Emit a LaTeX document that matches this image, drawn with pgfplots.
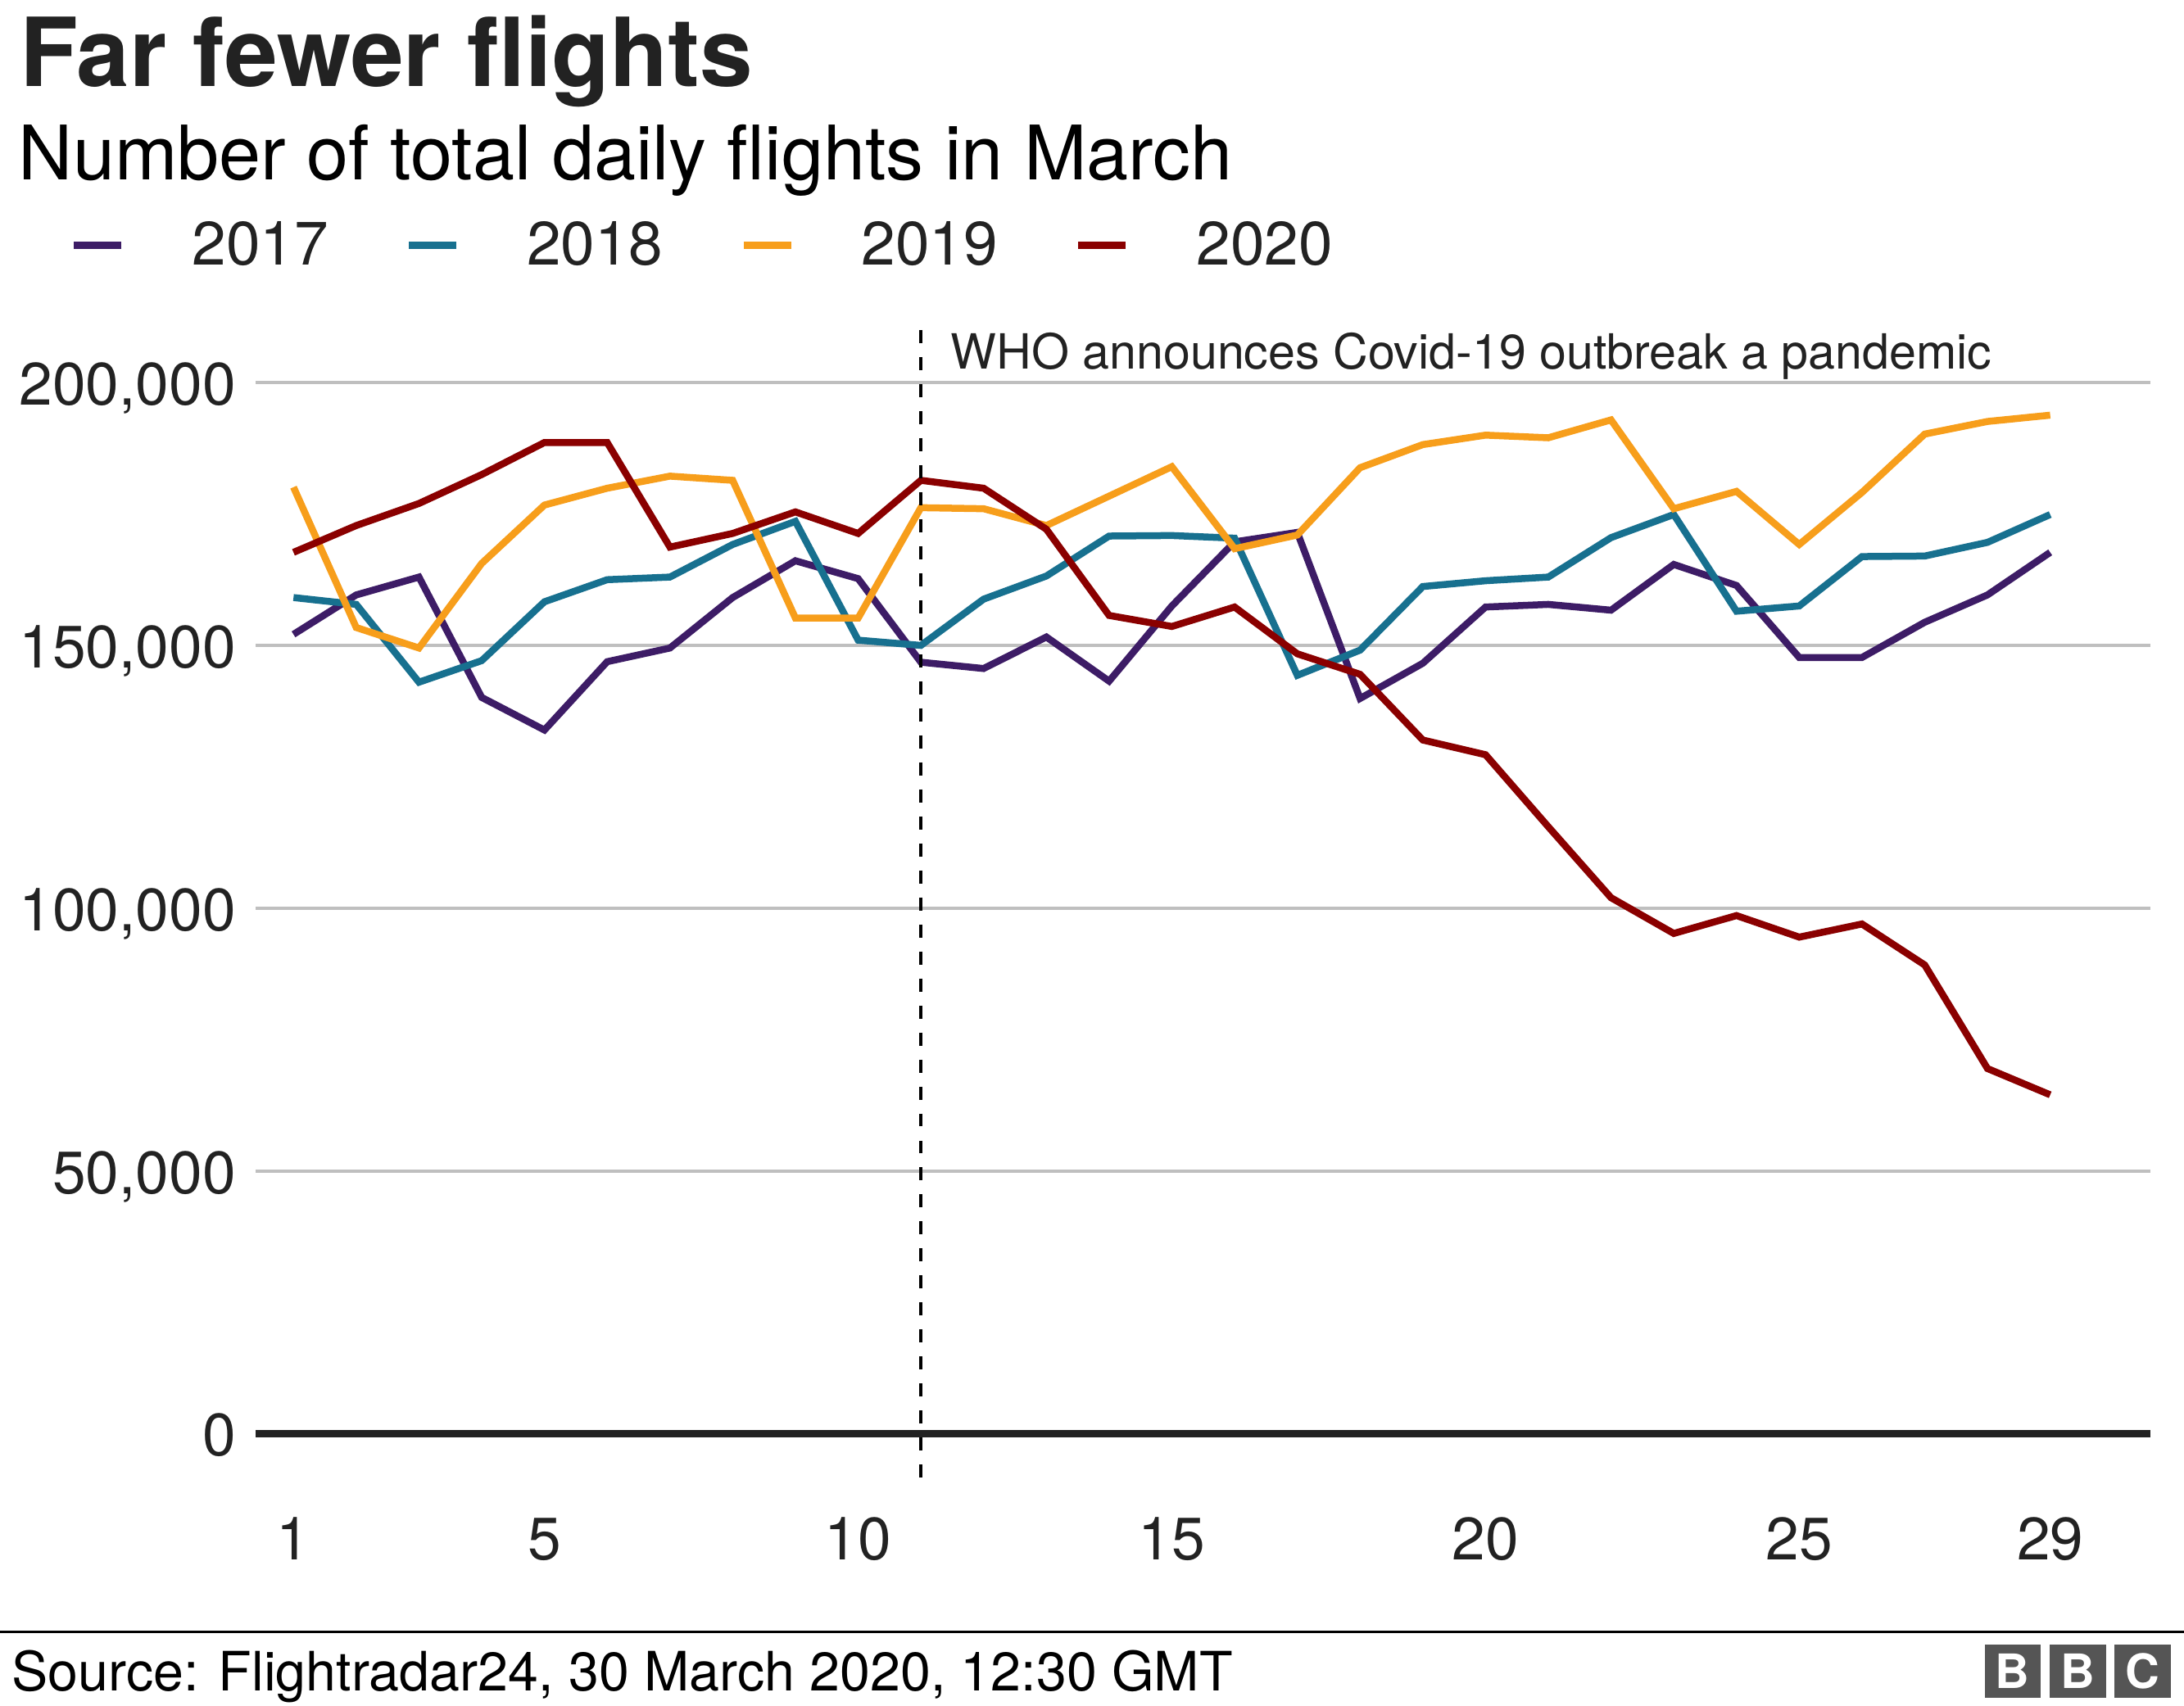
\documentclass[border=0pt]{standalone}
\usepackage{fontspec}
\setmainfont{TeX Gyre Heros}
\usepackage{pgfplots}
\usepackage{pgfplotstable}
\pgfplotsset{compat=1.18}

\definecolor{c17}{HTML}{3D1C66}
\definecolor{c18}{HTML}{17708F}
\definecolor{c19}{HTML}{F79E1B}
\definecolor{c20}{HTML}{8A0000}
\definecolor{gridc}{HTML}{BFBFBF}
\definecolor{zeroc}{HTML}{222222}
\definecolor{txt}{HTML}{222222}
\definecolor{bbcg}{HTML}{555555}

% daily flights, March
\pgfplotstableread{
day y2017  y2018  y2019  y2020
1   152100 159100 180100 167700
2   159600 157800 153400 172800
3   163000 143000 149500 177000
4   140100 147100 165600 182500
5   133900 158300 176700 188600
6   146900 162500 179900 188600
7   149500 163000 182200 168700
8   159100 169200 181400 171300
9   166100 173600 155200 175400
10  162700 151000 155200 171300
11  146800 150000 176200 181400
12  145600 158800 176000 179900
13  151600 163200 172800 172100
14  143200 170800 178400 155700
15  157500 170900 184000 153600
16  169700 170400 168400 157300
17  171500 144300 171000 148400
18  139900 149100 183800 144500
19  146600 161200 188200 132000
20  157300 162300 190000 129200
21  157800 163000 189500 115500
22  156700 170500 192900 102000
23  165400 174900 176000 95200
24  161400 156500 179300 98600
25  147700 157500 169200 94500
26  147700 166900 179100 97000
27  154400 167000 190200 89200
28  159600 169600 192600 69500
29  167700 174900 193800 64500
}\flights

\begin{document}
\begin{tikzpicture}[x=1pt,y=1pt]
\useasboundingbox (0,0) rectangle (784,612.5);

\begin{axis}[
    at={(91.8pt,78.5pt)}, anchor=south west,
    scale only axis,
    width=680.2pt, height=415.5pt,
    xmin=0.398, xmax=30.6,
    ymin=-10150, ymax=210000,
    clip=false,
    axis line style={draw=none},
    major tick length=0pt,
    tick style={draw=none},
    xtick={1,5,10,15,20,25,29},
    ytick={50000,100000,150000,200000},
    extra y ticks={0},
    extra y tick style={major grid style={draw=zeroc, line width=2.75pt}},
    ymajorgrids=true,
    grid style={draw=gridc, line width=1pt},
    scaled y ticks=false,
    /pgf/number format/fixed,
    /pgf/number format/precision=0,
    /pgf/number format/1000 sep={,},
    /pgf/number format/assume math mode=true,
    ticklabel style={font=\fontsize{21.5}{24}\selectfont, text=txt, inner sep=0pt},
    xticklabel style={anchor=base, yshift=-26pt},
    yticklabel style={anchor=base east, xshift=-7pt, yshift=-8pt},
    legend columns=4,
    legend style={draw=none, fill=none, at={(-0.0982,1.0734)}, anchor=west,
        inner sep=0pt, font=\fontsize{22}{26}\selectfont, text=txt,
        nodes={inner sep=0pt},
        /tikz/every odd column/.append style={column sep=24pt},
        /tikz/every even column/.append style={column sep=27.5pt}},
    legend image code/.code={\draw[#1, line width=2.75pt] (0pt,0pt) -- (17pt,0pt);},
    every axis plot/.append style={no markers, line width=2.5pt},
]
\addplot[c17] table[x=day, y=y2017] {\flights};
\addlegendentry{2017}
\addplot[c18] table[x=day, y=y2018] {\flights};
\addlegendentry{2018}
\addplot[c19] table[x=day, y=y2019] {\flights};
\addlegendentry{2019}
\addplot[c20] table[x=day, y=y2020] {\flights};
\addlegendentry{2020}

\draw[black, line width=1pt, dash pattern=on 4.7pt off 5pt]
    (axis cs:11,210000) -- (axis cs:11,-10150);
\node[anchor=base west, inner sep=0pt, xshift=10.5pt,
      font=\fontsize{17.4}{21}\selectfont, text=txt]
    at (axis cs:11,202600) {WHO announces Covid-19 outbreak a pandemic};
\end{axis}

% titles
\node[anchor=base west, inner sep=0pt, text=txt,
      font=\bfseries\fontsize{34.2}{40}\selectfont] at (7,581.5) {Far fewer flights};
\node[anchor=base west, inner sep=0pt, text=black,
      font=\fontsize{27}{31}\selectfont] at (6.5,548) {Number of total daily flights in March};

% footer
\draw[black, line width=1pt] (0,26.5) -- (784,26.5);
\node[anchor=base west, inner sep=0pt, text=black,
      font=\fontsize{19.5}{23}\selectfont] at (4,5.5) {Source: Flightradar24, 30 March 2020, 12:30 GMT};

% logo
\fill[bbcg] (712.4,3) rectangle (732.5,22);
\fill[bbcg] (735.7,3) rectangle (756,22);
\fill[bbcg] (759,3) rectangle (779.4,22);
\node[text=white, inner sep=0pt, font=\bfseries\fontsize{17}{17}\selectfont] at (722.45,12.5) {B};
\node[text=white, inner sep=0pt, font=\bfseries\fontsize{17}{17}\selectfont] at (745.85,12.5) {B};
\node[text=white, inner sep=0pt, font=\bfseries\fontsize{17}{17}\selectfont] at (769.2,12.5) {C};
\end{tikzpicture}
\end{document}
